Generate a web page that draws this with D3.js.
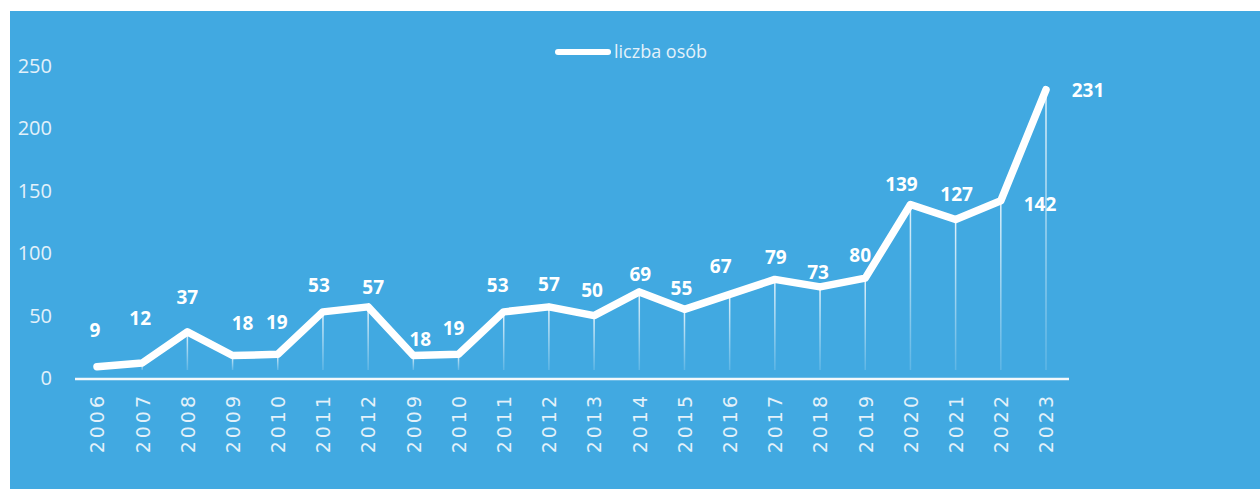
<!DOCTYPE html>
<html>
<head>
<meta charset="utf-8">
<script src="https://cdn.jsdelivr.net/npm/d3@7"></script>
<style>
  html, body { margin: 0; padding: 0; background: #ffffff; }
  svg { display: block; }
</style>
</head>
<body>
<svg id="chart"></svg>
<script>
// data
var years = ["2006","2007","2008","2009","2010","2011","2012","2009","2010","2011","2012",
             "2013","2014","2015","2016","2017","2018","2019","2020","2021","2022","2023"];
var persons = [9, 12, 37, 18, 19, 53, 57, 18, 19, 53, 57, 50, 69, 55, 67, 79, 73, 80, 139, 127, 142, 231];
var yTicks = [0, 50, 100, 150, 200, 250];
var seriesName = "liczba osób";

var W = 1260, H = 489;
var margin = {top: 66, right: 191, bottom: 111, left: 75};
var width = W - margin.left - margin.right,
    height = H - margin.top - margin.bottom;

var blue = "#41a9e1";

var root = d3.select("#chart").attr("width", W).attr("height", H);

// background panel (slightly offset like the scan)
root.append("rect")
    .attr("x", 10).attr("y", 11)
    .attr("width", W - 10).attr("height", H - 11)
    .style("fill", blue);

var defs = root.append("defs");
var grad = defs.append("linearGradient")
    .attr("id", "dropFade")
    .attr("gradientUnits", "objectBoundingBox")
    .attr("x1", 0).attr("y1", 0).attr("x2", 0).attr("y2", 1);
grad.append("stop").attr("offset", "0%").attr("stop-color", "#ffffff").attr("stop-opacity", 0.85);
grad.append("stop").attr("offset", "100%").attr("stop-color", "#ffffff").attr("stop-opacity", 0.15);

var svg = root.append("g")
    .attr("transform", "translate(" + margin.left + "," + margin.top + ")");

var x = d3.scalePoint()
    .domain(d3.range(years.length))
    .range([22, width - 23]);

var y = d3.scaleLinear()
    .domain([0, 250])
    .range([height, 0]);

// y axis labels
var yAxis = svg.append("g")
    .call(d3.axisLeft(y).tickValues(yTicks).tickSize(0).tickPadding(0));
yAxis.select(".domain").remove();
yAxis.selectAll("text")
    .style("fill", "#e3f1fa")
    .style("font-family", "'Open Sans', sans-serif")
    .style("font-size", "20px")
    .attr("text-anchor", "end")
    .attr("x", -23)
    .attr("dy", "0.32em");

// drop lines
svg.selectAll(".drop")
    .data(persons)
    .enter()
    .append("rect")
    .attr("class", "drop")
    .attr("x", function(d, i) { return x(i) - 0.75; })
    .attr("width", 1.5)
    .attr("y", function(d) { return y(d); })
    .attr("height", function(d) { return Math.max(0, y(0) - 8 - y(d)); })
    .style("fill", "url(#dropFade)");

// x axis
var xAxis = svg.append("g")
    .attr("transform", "translate(0," + (height + 1) + ")")
    .call(d3.axisBottom(x).tickSize(0).tickPadding(0).tickFormat(function(i) { return years[i]; }));
xAxis.select(".domain")
    .attr("d", "M0,0H" + width)
    .style("stroke", "#f2f8fc")
    .style("stroke-width", 2.5);
xAxis.selectAll("text")
    .style("fill", "#e3f1fa")
    .style("font-family", "'DejaVu Sans', sans-serif")
    .style("font-size", "19px")
    .style("letter-spacing", "3px")
    .attr("transform", "rotate(-90)")
    .attr("text-anchor", "end")
    .attr("x", -14)
    .attr("y", 0)
    .attr("dy", "0.36em");

// the line
var line = d3.line()
    .x(function(d, i) { return x(i); })
    .y(function(d) { return y(d); });

svg.append("path")
    .datum(persons)
    .attr("d", line)
    .style("fill", "none")
    .style("stroke", "#ffffff")
    .style("stroke-width", 7.5)
    .style("stroke-linejoin", "round")
    .style("stroke-linecap", "round");

// value labels - nudges [dx, dy] so they sit like the original
var labelNudge = {0: [-2, -12], 1: [-2, -20], 2: [0, -10], 3: [10, -7], 4: [-1, -7], 5: [-4, -2],
                  6: [5, 5], 7: [7, 9], 8: [-5, -1], 9: [-6, -2], 10: [0, 2], 11: [-2, 0],
                  12: [1, 7], 13: [-3, 4], 14: [-9, -3], 15: [1, 3], 16: [-2, 10], 17: [-5, 2],
                  18: [-9, 5], 19: [1, 0], 20: [-6, 28], 21: [42, 25]};
var labelColumn = {20: 21};   // the 142 label sits under the 2023 column in the original
svg.selectAll(".val")
    .data(persons)
    .enter()
    .append("text")
    .attr("class", "val")
    .attr("x", function(d, i) {
        var col = labelColumn[i] !== undefined ? labelColumn[i] : i;
        return x(col) + (labelNudge[i] ? labelNudge[i][0] : 0);
    })
    .attr("y", function(d, i) { return y(d) - 25 + (labelNudge[i] ? labelNudge[i][1] : 0); })
    .attr("dy", "0.36em")
    .attr("text-anchor", "middle")
    .style("fill", "#ffffff")
    .style("font-family", "'Open Sans', sans-serif")
    .style("font-weight", "bold")
    .style("font-size", "19px")
    .text(function(d) { return d; });

// legend
var legend = root.append("g")
    .attr("transform", "translate(" + (margin.left + width / 2 - 17) + ",52)");
legend.append("line")
    .attr("x1", 3).attr("x2", 53)
    .attr("y1", 0).attr("y2", 0)
    .style("stroke", "#ffffff")
    .style("stroke-width", 6)
    .style("stroke-linecap", "round");
legend.append("text")
    .attr("x", 59)
    .attr("y", 0)
    .attr("dy", "0.33em")
    .style("fill", "#e3f1fa")
    .style("font-family", "'Open Sans', sans-serif")
    .style("font-size", "18px")
    .text(seriesName);
</script>
</body>
</html>
